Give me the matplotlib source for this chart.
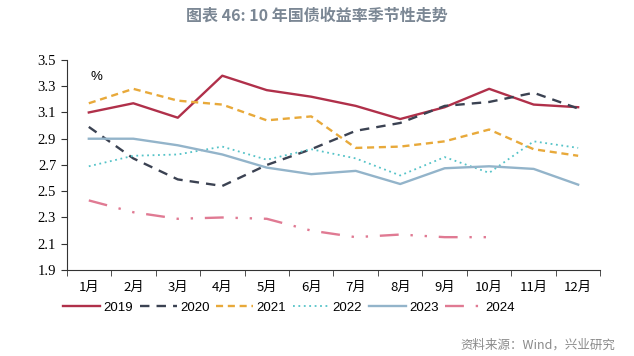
import matplotlib.pyplot as plt
import numpy as np

plt.rcParams['font.family'] = ['Noto Sans CJK SC', 'DejaVu Sans']

months = ['1月', '2月', '3月', '4月', '5月', '6月', '7月', '8月', '9月', '10月', '11月', '12月']

y2019 = [3.10, 3.17, 3.06, 3.38, 3.27, 3.22, 3.15, 3.05, 3.14, 3.28, 3.16, 3.14]
y2020 = [2.99, 2.75, 2.59, 2.54, 2.70, 2.82, 2.96, 3.02, 3.15, 3.18, 3.25, 3.13]
y2021 = [3.17, 3.28, 3.19, 3.16, 3.04, 3.07, 2.83, 2.84, 2.88, 2.97, 2.82, 2.77]
y2022 = [2.69, 2.77, 2.78, 2.84, 2.74, 2.82, 2.75, 2.62, 2.76, 2.64, 2.88, 2.83]
y2023 = [2.90, 2.90, 2.85, 2.78, 2.68, 2.63, 2.655, 2.555, 2.675, 2.69, 2.67, 2.55]
y2024 = [2.43, 2.34, 2.29, 2.30, 2.29, 2.20, 2.15, 2.17, 2.15, 2.15]

fig = plt.figure(figsize=(6.34, 3.56), dpi=100)
ax = fig.add_axes([0.105, 0.2416, 0.842, 0.59])

x = np.arange(len(months))
ax.plot(x, y2019, color='#b0304a', lw=1.7, label='2019')
ax.plot(x, y2020, color='#3b4252', lw=1.7, ls=(0, (4, 3)), label='2020')
ax.plot(x, y2021, color='#e8a93a', lw=1.7, ls=(0, (3, 2)), label='2021')
ax.plot(x, y2022, color='#55c3c8', lw=1.3, ls=(0, (1, 2)), label='2022')
ax.plot(x, y2023, color='#93b4ca', lw=1.7, label='2023')
ax.plot(x[:len(y2024)], y2024, color='#e07a93', lw=1.7,
        ls=(0, (8, 5, 1, 5, 1, 5)), label='2024')

ax.set_xlim(-0.5, 11.5)
ax.set_ylim(1.9, 3.5)
ax.set_yticks(np.arange(1.9, 3.51, 0.2))
ax.set_yticklabels([f'{v:.1f}' for v in np.arange(1.9, 3.51, 0.2)],
                   family='Liberation Serif', fontsize=10.5)
ax.set_xticks(x)
ax.set_xticklabels(months, fontsize=9.5)
ax.set_xticks(np.arange(-0.5, 12, 1), minor=True)
ax.tick_params(axis='x', which='major', length=0, pad=8)
ax.tick_params(axis='x', which='minor', length=4, color='#333333')
ax.tick_params(axis='y', length=4, color='#333333')

for s in ['top', 'right']:
    ax.spines[s].set_visible(False)
ax.spines['left'].set_color('#333333')
ax.spines['bottom'].set_color('#333333')

ax.text(0.045, 0.92, '%', transform=ax.transAxes, fontsize=9.5,
        family='Liberation Sans', ha='left', va='center')

fig.text(0.5, 0.955, '图表 46: 10 年国债收益率季节性走势', ha='center', va='center',
         fontsize=11.5, color='#7b8794', fontweight='bold')

fig.legend(loc='center', bbox_to_anchor=(0.456, 0.135), ncol=6, frameon=False,
           handlelength=2.8, columnspacing=0.5, handletextpad=0.25,
           prop={'family': ['Liberation Sans'], 'size': 9.5})

fig.text(0.97, 0.03, '资料来源：Wind，兴业研究', ha='right', va='center',
         fontsize=9, color='#8a8a8a')

fig.savefig('out.png', dpi=100)
